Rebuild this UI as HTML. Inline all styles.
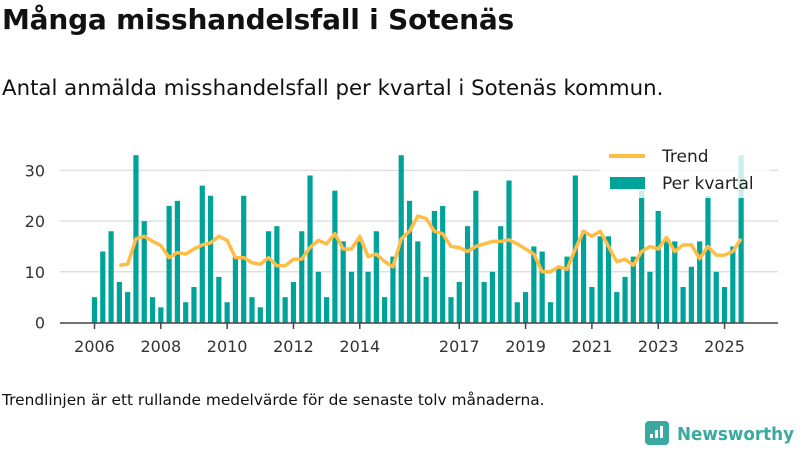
<!DOCTYPE html>
<html><head><meta charset="utf-8">
<style>
body{margin:0;width:800px;height:450px;background:#fff;overflow:hidden;font-family:"Liberation Sans","DejaVu Sans",sans-serif;color:#111}
#t{position:absolute;left:2px;top:3px;font-size:28px;font-weight:bold;font-family:"DejaVu Sans",sans-serif;letter-spacing:-0.2px;white-space:nowrap}
#s{position:absolute;left:2px;top:76px;font-size:21.3px;font-family:"DejaVu Sans",sans-serif;white-space:nowrap}
#f{position:absolute;left:2px;top:391px;font-size:15.4px;font-family:"DejaVu Sans",sans-serif;white-space:nowrap}
svg{position:absolute;left:0;top:0}
</style></head><body>
<div id="t">Många misshandelsfall i Sotenäs</div>
<div id="s">Antal anmälda misshandelsfall per kvartal i Sotenäs kommun.</div>
<div id="f">Trendlinjen är ett rullande medelvärde för de senaste tolv månaderna.</div>
<svg id="c" width="800" height="450"></svg>
<script>
const values=[5,14,18,8, 6,33,20,5, 3,23,24,4, 7,27,25,9, 4,13,25,5, 3,18,19,5, 8,18,29,10, 5,26,16,10, 16,10,18,5, 13,33,24,16, 9,22,23,5, 8,19,26,8, 10,19,28,4, 6,15,14,4, 11,13,29,18, 7,17,17,6, 9,13,26,10, 22,16,16,7, 11,16,25,10, 7,15,33];
const trend=[11.3,11.5,16.5,17,16,15.2,12.8,13.8,13.5,14.5,15.3,15.7,17,16.2,12.8,12.8,11.8,11.5,12.8,11.2,11.2,12.5,12.5,14.8,16.2,15.5,17.5,14.5,14.5,17,13,13.5,12,11,16.5,18,21,20.5,18,17.5,15,14.8,14,15,15.5,16,16,16.3,15.5,14.5,13.5,10,10,11,10.5,14.5,18,17,18,15,12,12.5,11.3,14,15,14.5,16.8,14,15.3,15.3,12.6,15,13.3,13.3,14,16.5];
const yTicks=[0,10,20,30];
const xTickYears=[2006,2008,2010,2012,2014,2017,2019,2021,2023,2025];
const startYear=2006, trendStart=3;
const NS='http://www.w3.org/2000/svg';
const svg=document.getElementById('c');
const X=i=>94.5+i*8.29;
const Y=v=>322.5-v*5.07;
function mk(tag,attrs){const e=document.createElementNS(NS,tag);for(const k in attrs)e.setAttribute(k,attrs[k]);svg.appendChild(e);return e;}
yTicks.forEach(v=>{
  if(v>0){const g=mk('line',{x1:60,x2:778,y1:Y(v),y2:Y(v),stroke:'#e0e0e0','stroke-width':1.5});
  
  }
  const t=mk('text',{x:45,y:Y(v)+6,'text-anchor':'end','font-size':16,fill:'#333','font-family':'DejaVu Sans, sans-serif'});
  t.textContent=v;
  
  
});
values.forEach((v,i)=>{
  const r=mk('rect',{x:X(i)-2.6,y:Y(v),width:5.2,height:Y(0)-Y(v),fill:'#00a39a'});
  
  
});
const ax=mk('line',{x1:60,x2:778,y1:323,y2:323,stroke:'#444','stroke-width':1.5});


xTickYears.forEach(yr=>{
  const x=X((yr-startYear)*4);
  const tk=mk('line',{x1:x,x2:x,y1:323,y2:329,stroke:'#444','stroke-width':1.5});
  
  
  const t=mk('text',{x:x,y:352,'text-anchor':'middle','font-size':16,fill:'#333','font-family':'DejaVu Sans, sans-serif'});
  t.textContent=yr;
  
  
});
const pl=mk('polyline',{points:trend.map((v,i)=>X(i+trendStart)+','+Y(v)).join(' '),fill:'none',stroke:'#ffbd45','stroke-width':3.5,'stroke-linejoin':'round'});


const lb=mk('rect',{x:600,y:140,width:170,height:58,fill:'#fff','fill-opacity':0.8});


const l1=mk('line',{x1:609,x2:645,y1:156,y2:156,stroke:'#ffbd45','stroke-width':4});


const t1=mk('text',{x:662,y:162,'font-size':17,fill:'#222','font-family':'DejaVu Sans, sans-serif'});t1.textContent='Trend';


const r2=mk('rect',{x:610,y:177,width:35,height:12,fill:'#00a39a'});


const t2=mk('text',{x:662,y:189,'font-size':17,fill:'#222','font-family':'DejaVu Sans, sans-serif'});t2.textContent='Per kvartal';


// logo
const lg=mk('rect',{x:645,y:421,width:24,height:24,rx:4,fill:'#3aa99f'});


[[650,434,4],[655,430,8],[660,426,12]].forEach(([x,y,h])=>{const b=mk('rect',{x:x,y:y,width:3,height:h,fill:'#fff'});

});
const lt=mk('text',{x:677,y:440,'font-size':18,'font-weight':'bold',fill:'#3aa99f','font-family':'DejaVu Sans, sans-serif',textLength:117,lengthAdjust:'spacingAndGlyphs'});lt.textContent='Newsworthy';


</script>
</body></html>
